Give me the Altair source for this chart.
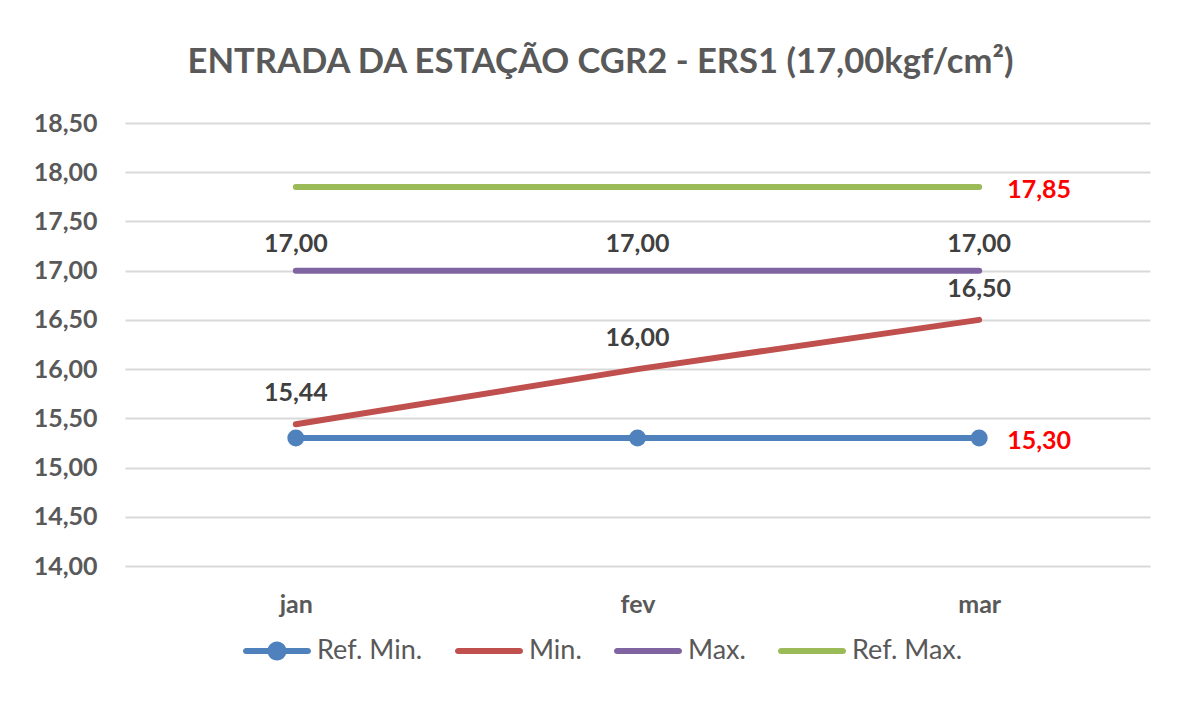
import altair as alt
import pandas as pd

months = ["jan", "fev", "mar"]
series_names = ["Ref. Min.", "Min.", "Max.", "Ref. Max."]
ref_min = [15.30, 15.30, 15.30]
min_vals = [15.44, 16.00, 16.50]
max_vals = [17.00, 17.00, 17.00]
ref_max = [17.85, 17.85, 17.85]
colors = ["#4F81BD", "#C0504D", "#8064A2", "#9BBB59"]
y_ticks = [14.0, 14.5, 15.0, 15.5, 16.0, 16.5, 17.0, 17.5, 18.0, 18.5]

rows = []
for name, vals in zip(series_names, [ref_min, min_vals, max_vals, ref_max]):
    for m, v in zip(months, vals):
        rows.append({"month": m, "series": name, "value": v,
                     "label": f"{v:.2f}".replace(".", ",")})
df = pd.DataFrame(rows)

FONT = "Lato"
GRAY = "#595959"

# legend symbol paths (line with round caps, optional circle)
k = 0.5523
t = 0.09
r = 0.28
def stadium():
    a = 1 - t
    return (f"M{-a},{-t}L{a},{-t}"
            f"C{a + k*t},{-t} 1,{-k*t} 1,0"
            f"C1,{k*t} {a + k*t},{t} {a},{t}"
            f"L{-a},{t}"
            f"C{-a - k*t},{t} -1,{k*t} -1,0"
            f"C-1,{-k*t} {-a - k*t},{-t} {-a},{-t}Z")
def circle():
    return (f"M{r},0C{r},{k*r} {k*r},{r} 0,{r}"
            f"C{-k*r},{r} {-r},{k*r} {-r},0"
            f"C{-r},{-k*r} {-k*r},{-r} 0,{-r}"
            f"C{k*r},{-r} {r},{-k*r} {r},0Z")
line_path = stadium()
shapes = [line_path + circle(), line_path, line_path, line_path]

x_enc = alt.X("month:N", sort=months,
              scale=alt.Scale(type="point", padding=0.5),
              axis=alt.Axis(title=None, labelAngle=0, domain=False, ticks=False,
                            grid=False, labelFont=FONT, labelFontSize=25,
                            labelFontWeight="bold", labelColor=GRAY, labelPadding=26))
y_enc = alt.Y("value:Q",
              scale=alt.Scale(domain=[14, 18.5], nice=False, zero=False),
              axis=alt.Axis(title=None, values=y_ticks, domain=False, ticks=False,
                            grid=True, gridColor="#D9D9D9", gridWidth=2,
                            labelFont=FONT, labelFontSize=25, labelFontWeight="bold",
                            labelColor=GRAY, labelPadding=28,
                            labelExpr="replace(format(datum.value, '.2f'), '.', ',')"))
color_scale = alt.Scale(domain=series_names, range=colors)

base = alt.Chart(df)

lines = base.mark_line(strokeWidth=6, strokeCap="round").encode(
    x=x_enc, y=y_enc,
    color=alt.Color("series:N", scale=color_scale, legend=None),
)

dots = base.transform_filter(alt.datum.series == "Ref. Min.").mark_point(
    filled=True, size=290, opacity=1, shape="circle").encode(
    x=x_enc, y=y_enc,
    color=alt.Color("series:N", scale=color_scale, legend=None),
)

leg = alt.Legend(title=None, orient="none", direction="horizontal",
                 legendX=118, legendY=494,
                 labelFont=FONT, labelFontSize=27, labelColor=GRAY,
                 labelOffset=6, columnPadding=32,
                 symbolSize=4624, symbolStrokeWidth=0, symbolOpacity=1)

legend_layer = base.transform_filter("false").mark_point(
    filled=True, size=4624, opacity=1).encode(
    x=x_enc, y=y_enc,
    color=alt.Color("series:N", scale=color_scale, legend=leg),
    shape=alt.Shape("series:N", scale=alt.Scale(domain=series_names, range=shapes),
                    legend=leg),
)

max_labels = base.transform_filter(alt.datum.series == "Max.").mark_text(
    dy=-27, font=FONT, fontSize=25, fontWeight="bold", color="#404040").encode(
    x=x_enc, y=y_enc, text="label:N")

min_labels = base.transform_filter(alt.datum.series == "Min.").mark_text(
    dy=-31, font=FONT, fontSize=25, fontWeight="bold", color="#404040").encode(
    x=x_enc, y=y_enc, text="label:N")

red_labels = base.transform_filter(
    "(datum.series == 'Ref. Min.' || datum.series == 'Ref. Max.') && datum.month == 'mar'"
).mark_text(dx=28, dy=3, align="left", font=FONT, fontSize=25, fontWeight="bold",
            color="#FF0000").encode(x=x_enc, y=y_enc, text="label:N")

chart = alt.layer(lines, dots, legend_layer, max_labels, min_labels, red_labels).resolve_legend(
    color="independent", shape="independent"
).properties(
    width=1025, height=443,
    title=alt.TitleParams("ENTRADA DA ESTAÇÃO CGR2 - ERS1 (17,00kgf/cm²)",
                          font=FONT, fontSize=34.6, fontWeight="bold", color=GRAY,
                          anchor="middle", dx=-37, offset=30),
    padding={"left": 117, "top": 115, "right": 19, "bottom": 137},
    autosize=alt.AutoSizeParams(type="none"),
    background="white",
).configure_view(stroke=None)

chart.save("out.html", embed_options={"renderer": "svg", "actions": False})
